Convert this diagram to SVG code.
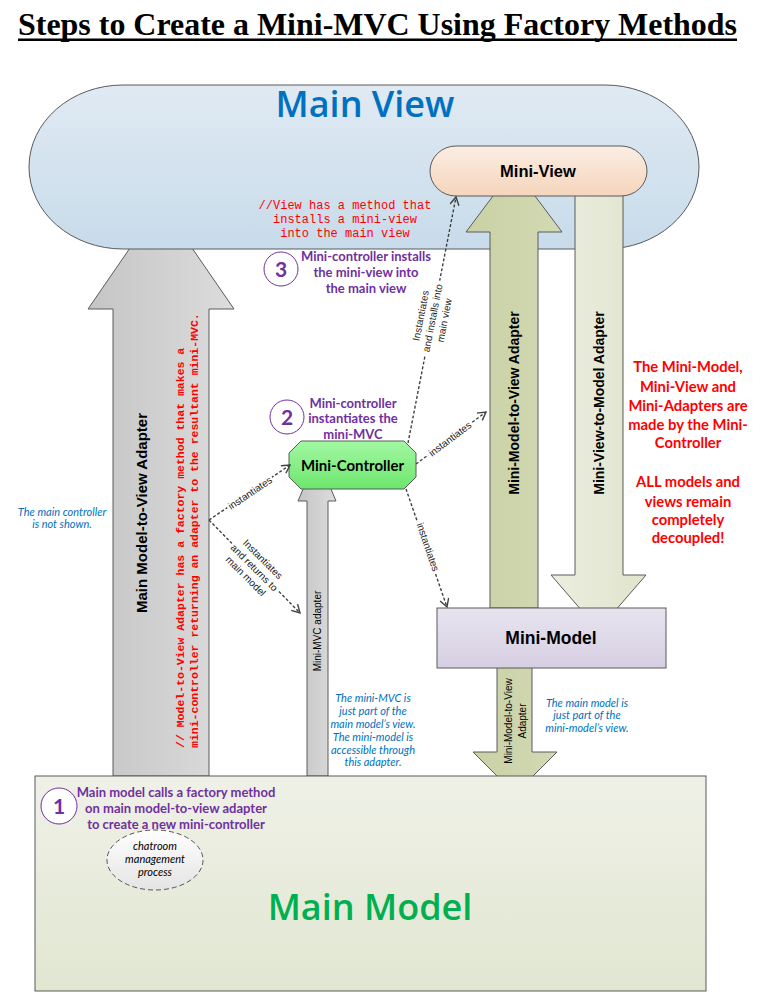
<svg xmlns="http://www.w3.org/2000/svg" width="762" height="996" viewBox="0 0 762 996">
<defs>
<style>
.ar{font-family:"Liberation Sans",Arial,sans-serif}
.ca{font-family:Lato,"Open Sans",sans-serif}
.mono{font-family:"Liberation Mono","Courier New",monospace}
.pur{fill:#7030a0;font-weight:bold;font-size:13px;text-anchor:middle}
.note{fill:#0070c0;font-style:italic;font-size:11px;text-anchor:middle}
.num{fill:#7030a0;font-weight:bold;font-size:21px;text-anchor:middle}
.step{fill:#ffffff;stroke:#7030a0;stroke-width:1}
.conn{fill:none;stroke:#404040;stroke-width:1.4;stroke-dasharray:3 2;marker-end:url(#arr)}
.clbl{font-size:10px;fill:#222;text-anchor:middle}
.shape{stroke:#5a5a5a;stroke-width:1}
.vlab{font-weight:bold;font-size:14px;fill:#000;text-anchor:middle}
.red{fill:#ff0000;font-weight:bold;font-size:14.8px;text-anchor:middle}
</style>
<marker id="arr" markerUnits="userSpaceOnUse" markerWidth="12" markerHeight="12" refX="9" refY="5" orient="auto">
<path d="M1,0.5 L9,5 L1,9.5" fill="none" stroke="#404040" stroke-width="1.4"/>
</marker>
<linearGradient id="gMV" x1="0" y1="0" x2="0" y2="1"><stop offset="0" stop-color="#e0eaf3"/><stop offset="1" stop-color="#c8dbea"/></linearGradient>
<linearGradient id="gMiniV" x1="0" y1="0" x2="0" y2="1"><stop offset="0" stop-color="#fbeee3"/><stop offset="1" stop-color="#f5d5bc"/></linearGradient>
<linearGradient id="gGrey" x1="0" y1="0" x2="1" y2="0"><stop offset="0" stop-color="#c5c5c5"/><stop offset="1" stop-color="#dcdcdc"/></linearGradient>
<linearGradient id="gOlive" x1="0" y1="0" x2="1" y2="0"><stop offset="0" stop-color="#c9d1a5"/><stop offset="1" stop-color="#d3d9b3"/></linearGradient>
<linearGradient id="gLight" x1="0" y1="0" x2="1" y2="0"><stop offset="0" stop-color="#eceedf"/><stop offset="1" stop-color="#e0e4cd"/></linearGradient>
<linearGradient id="gMM" x1="0" y1="0" x2="0" y2="1"><stop offset="0" stop-color="#e7e4ef"/><stop offset="1" stop-color="#d6cfe3"/></linearGradient>
<linearGradient id="gMC" x1="0" y1="0" x2="0" y2="1"><stop offset="0" stop-color="#a2f8a2"/><stop offset="1" stop-color="#6de66d"/></linearGradient>
<linearGradient id="gMain" x1="0" y1="0" x2="0" y2="1"><stop offset="0" stop-color="#eff1e7"/><stop offset="1" stop-color="#e1e6d1"/></linearGradient>
<linearGradient id="gEll" x1="0" y1="0" x2="0" y2="1"><stop offset="0" stop-color="#ffffff"/><stop offset="1" stop-color="#e4e4e4"/></linearGradient>
</defs>
<rect width="762" height="996" fill="#ffffff"/>

<g id="title">
<text x="18" y="35" font-family="'Liberation Serif','Times New Roman',serif" font-weight="bold" font-size="32" textLength="719" lengthAdjust="spacingAndGlyphs">Steps to Create a Mini-MVC Using Factory Methods</text>
<rect x="18" y="38.5" width="719" height="2.5" fill="#000"/>
</g>

<g id="main-model-to-view-adapter">
<polygon class="shape" fill="url(#gGrey)" points="161,203 234,309 209,309 209,776 113,776 113,309 88,309"/>
<text class="ar" transform="rotate(-90 147 513)" x="147" y="513" font-size="15" font-weight="bold" text-anchor="middle">Main Model-to-View Adapter</text>
<text class="mono" transform="rotate(-90 184 748)" x="184" y="748" font-size="11.5" font-weight="bold" fill="#ff0000">// Model-to-View Adapter has a factory method that makes a</text>
<text class="mono" transform="rotate(-90 197.5 748)" x="197.5" y="748" font-size="11.5" font-weight="bold" fill="#ff0000">mini-controller returning an adapter to the resultant mini-MVC.</text>
</g>

<g id="main-view">
<rect class="shape" x="29" y="85" width="670" height="164" rx="94" ry="82" fill="url(#gMV)"/>
<text x="365" y="117" font-size="36" font-weight="600" fill="#0070c0" text-anchor="middle" font-family="'Open Sans',Lato,sans-serif">Main View</text>
<text class="mono" font-size="12" fill="#ff0000" text-anchor="middle"><tspan x="345" y="209">//View has a method that</tspan><tspan x="345" y="223">installs a mini-view</tspan><tspan x="345" y="237">into the main view</tspan></text>
</g>

<g id="mini-model-to-view-adapter">
<polygon class="shape" fill="url(#gOlive)" points="514,168 562,232 538,232 538,608 490,608 490,232 466,232"/>
<text class="ar vlab" transform="rotate(-90 519 403)" x="519" y="403">Mini-Model-to-View Adapter</text>
</g>

<g id="mini-view-to-model-adapter">
<polygon class="shape" fill="url(#gLight)" points="575,180 623,180 623,575 646,575 598.5,630 551,575 575,575"/>
<text class="ar vlab" transform="rotate(-90 604 403)" x="604" y="403">Mini-View-to-Model Adapter</text>
</g>

<g id="mini-view">
<rect class="shape" x="430" y="146" width="217" height="50" rx="26" ry="25" fill="url(#gMiniV)"/>
<text class="ar" x="538" y="177" font-size="16.5" font-weight="bold" text-anchor="middle">Mini-View</text>
</g>

<g id="mini-mvc-adapter">
<polygon class="shape" fill="url(#gGrey)" points="317,456 336,501 328,501 328,776 307,776 307,501 298,501"/>
<text class="ar" transform="rotate(-90 320.5 631)" x="320.5" y="631" font-size="10" text-anchor="middle">Mini-MVC adapter</text>
</g>

<g id="mini-controller">
<polygon class="shape" fill="url(#gMC)" points="301,441 404,441 416,453 416,477 404,489 301,489 289,477 289,453"/>
<text class="ca" x="352.5" y="471" font-size="15" font-weight="bold" text-anchor="middle">Mini-Controller</text>
</g>

<g id="mini-model-adapter-down">
<polygon class="shape" fill="url(#gOlive)" points="497,660 532,660 532,752 557,752 515,794 473,752 497,752"/>
<text class="ar" transform="rotate(-90 511.5 721)" x="511.5" y="721" font-size="10" text-anchor="middle">Mini-Model-to-View</text>
<text class="ar" transform="rotate(-90 525.5 721)" x="525.5" y="721" font-size="10" text-anchor="middle">Adapter</text>
</g>

<g id="mini-model">
<rect class="shape" x="437" y="608" width="229" height="60" fill="url(#gMM)"/>
<text class="ar" x="551" y="644" font-size="17.5" font-weight="bold" text-anchor="middle">Mini-Model</text>
</g>

<g id="main-model">
<rect class="shape" x="35" y="776" width="671" height="215" fill="url(#gMain)"/>
<text x="370" y="920" font-size="36" font-weight="600" fill="#00b050" text-anchor="middle" font-family="'Open Sans',Lato,sans-serif">Main Model</text>
</g>

<g id="chatroom-process">
<ellipse cx="155" cy="860" rx="48" ry="30" fill="url(#gEll)" stroke="#555" stroke-width="1" stroke-dasharray="5 3"/>
<text class="ca" font-size="11" font-style="italic" fill="#000" text-anchor="middle"><tspan x="155" y="850">chatroom</tspan><tspan x="155" y="863">management</tspan><tspan x="155" y="876">process</tspan></text>
</g>

<g id="step-1">
<circle class="step" cx="59" cy="806" r="18"/>
<text class="ca num" x="59" y="814">1</text>
<text class="ca pur" font-size="12.5"><tspan x="176" y="797">Main model calls a factory method</tspan><tspan x="176" y="813">on main model-to-view adapter</tspan><tspan x="176" y="829">to create a new mini-controller</tspan></text>
</g>

<g id="step-2">
<circle class="step" cx="287" cy="417" r="17"/>
<text class="ca num" x="287" y="425">2</text>
<text class="ca pur"><tspan x="353" y="408">Mini-controller</tspan><tspan x="353" y="423">instantiates the</tspan><tspan x="353" y="439">mini-MVC</tspan></text>
</g>

<g id="step-3">
<circle class="step" cx="281" cy="269" r="17"/>
<text class="ca num" x="281" y="277">3</text>
<text class="ca pur"><tspan x="366" y="261">Mini-controller installs</tspan><tspan x="366" y="277">the mini-view into</tspan><tspan x="366" y="293">the main view</tspan></text>
</g>

<g id="notes">
<text class="ca note"><tspan x="62" y="516">The main controller</tspan><tspan x="62" y="528">is not shown.</tspan></text>
<text class="ca note"><tspan x="373" y="702">The mini-MVC is</tspan><tspan x="373" y="715">just part of the</tspan><tspan x="373" y="728">main model’s view.</tspan><tspan x="373" y="741">The mini-model is</tspan><tspan x="373" y="754">accessible through</tspan><tspan x="373" y="766">this adapter.</tspan></text>
<text class="ca note"><tspan x="587" y="707">The main model is</tspan><tspan x="587" y="719">just part of the</tspan><tspan x="587" y="732">mini-model’s view.</tspan></text>
<text class="ca red"><tspan x="688" y="372">The Mini-Model,</tspan><tspan x="688" y="392">Mini-View and</tspan><tspan x="688" y="411">Mini-Adapters are</tspan><tspan x="688" y="430">made by the Mini-</tspan><tspan x="688" y="448">Controller</tspan><tspan x="688" y="487">ALL models and</tspan><tspan x="688" y="507">views remain</tspan><tspan x="688" y="525">completely</tspan><tspan x="688" y="543">decoupled!</tspan></text>
</g>

<g id="connectors">
<path class="conn" d="M209,520 L290,465"/>
<path class="conn" d="M209,520 L300,613"/>
<path class="conn" d="M408,443 L456,197"/>
<path class="conn" d="M416,464 L486,412"/>
<path class="conn" d="M406,489 L447,607"/>
<g class="ar clbl">
<g transform="translate(250 493) rotate(-34)"><rect x="-27" y="-6" width="54" height="11" fill="#fff"/><text x="0" y="3.5">instantiates</text></g>
<g transform="translate(254 568) rotate(45)"><rect x="-33" y="-18" width="66" height="35" fill="#fff"/><text x="0" y="-9">Instantiates</text><text x="0" y="3">and returns to</text><text x="0" y="15">main model</text></g>
<g transform="translate(433 318) rotate(-79)"><rect x="-38" y="-18" width="76" height="35" fill="#fff"/><text x="0" y="-9">Instantiates</text><text x="0" y="3">and installs into</text><text x="0" y="15">main view</text></g>
<g transform="translate(450 439) rotate(-37)"><rect x="-27" y="-6" width="54" height="11" fill="#fff"/><text x="0" y="3.5">instantiates</text></g>
<g transform="translate(428 547) rotate(71)"><rect x="-27" y="-6" width="54" height="11" fill="#fff"/><text x="0" y="3.5">instantiates</text></g>
</g>
</g>
</svg>
